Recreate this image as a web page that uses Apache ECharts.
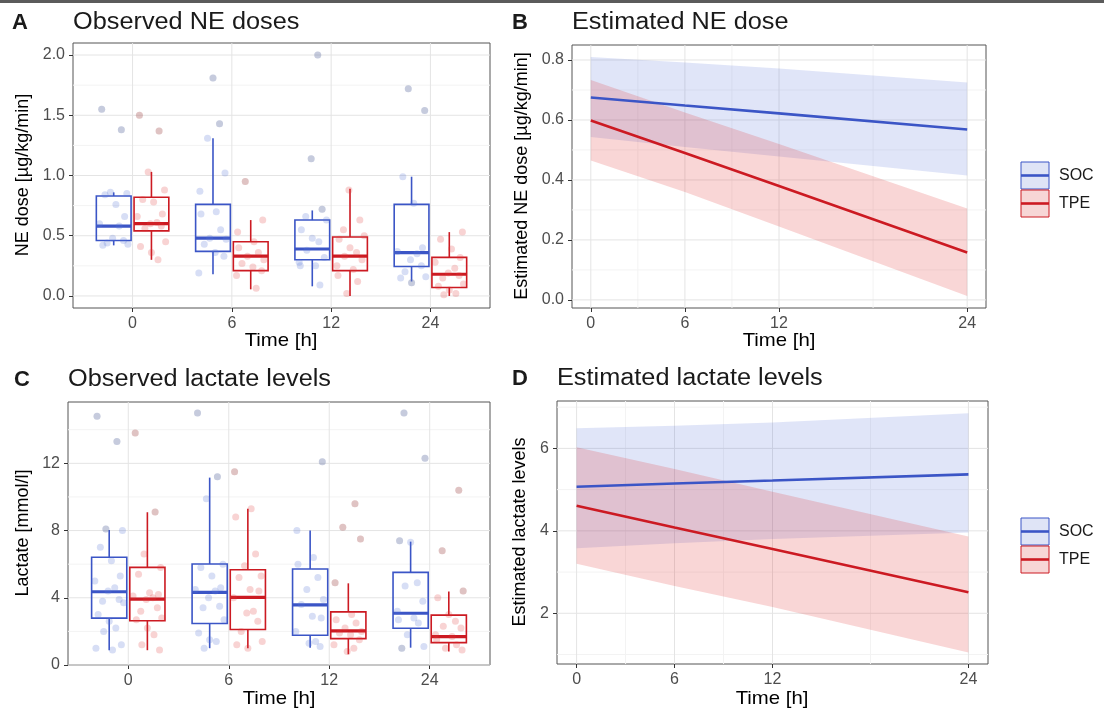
<!DOCTYPE html>
<html><head><meta charset="utf-8">
<script src="https://cdn.jsdelivr.net/npm/echarts@6/dist/echarts.min.js"></script>
<style>html,body{margin:0;padding:0;background:#fff}#c{width:1104px;height:709px}</style>
</head><body><div id="c"></div>
<script>
// ---------- DATA ----------
const CATS = ['0', '6', '12', '24'];
const TIMES = [0, 6, 12, 24];
const GROUPS = ['SOC', 'TPE'];

// Panel A: observed NE doses, box stats [min, q1, median, q3, max]
const NE_SOC_BOX = [[0.42,0.46,0.58,0.83,0.86],[0.18,0.37,0.48,0.76,1.31],[0.08,0.30,0.39,0.63,0.71],[0.12,0.245,0.36,0.76,0.99]];
const NE_TPE_BOX = [[0.30,0.54,0.60,0.82,1.03],[0.055,0.21,0.33,0.45,0.63],[0.0,0.21,0.33,0.49,0.89],[0.0,0.07,0.18,0.32,0.53]];
// Panel A: observed points per time
const NE_SOC_PTS = [
  [1.55,1.38,0.86,0.85,0.84,0.76,0.66,0.60,0.58,0.48,0.46,0.44,0.43,0.42],
  [1.81,1.43,1.31,1.02,0.87,0.70,0.68,0.55,0.48,0.47,0.43,0.36,0.33,0.19],
  [2.00,1.14,0.72,0.66,0.63,0.55,0.48,0.45,0.38,0.32,0.28,0.25,0.25,0.09],
  [1.72,1.54,0.99,0.77,0.40,0.37,0.35,0.30,0.25,0.20,0.16,0.15,0.11]
];
const NE_TPE_PTS = [
  [1.50,1.37,1.03,0.88,0.80,0.78,0.68,0.66,0.61,0.60,0.58,0.56,0.45,0.41,0.36,0.30],
  [0.95,0.63,0.53,0.45,0.40,0.36,0.33,0.30,0.27,0.24,0.21,0.17,0.065],
  [0.88,0.63,0.55,0.50,0.47,0.40,0.36,0.33,0.30,0.25,0.22,0.17,0.12,0.02],
  [0.53,0.47,0.39,0.32,0.28,0.23,0.19,0.17,0.15,0.10,0.08,0.05,0.02,0.01]
];

// Panel B: estimated NE dose at TIMES
const NE_EST_SOC = [0.675, 0.648, 0.622, 0.568];
const NE_EST_SOC_LO = [0.543, 0.510, 0.478, 0.415];
const NE_EST_SOC_HI = [0.810, 0.792, 0.772, 0.725];
const NE_EST_TPE = [0.598, 0.490, 0.380, 0.158];
const NE_EST_TPE_LO = [0.465, 0.360, 0.245, 0.013];
const NE_EST_TPE_HI = [0.733, 0.625, 0.520, 0.305];

// Panel C: observed lactate, box stats [min, q1, median, q3, max]
const LAC_SOC_BOX = [[0.88,2.79,4.36,6.41,8.04],[1.0,2.47,4.32,6.01,11.15],[1.03,1.77,3.58,5.71,8.0],[1.03,2.19,3.08,5.51,7.34]];
const LAC_TPE_BOX = [[0.88,2.63,3.92,5.81,9.09],[1.0,2.11,4.02,5.67,9.3],[0.64,1.57,2.03,3.16,4.86],[0.8,1.33,1.69,2.97,4.38]];
const LAC_SOC_PTS = [
  [14.8,13.3,8.1,8.0,7.0,6.2,5.3,5.0,4.6,4.4,3.9,3.8,3.7,3.0,2.6,2.2,2.0,1.2,1.0,0.9],
  [15.0,11.2,9.9,6.0,5.8,5.3,4.6,4.5,4.4,4.0,3.5,3.4,2.7,1.9,1.5,1.4,1.0],
  [12.1,8.0,6.4,6.0,5.2,4.5,3.9,3.6,2.9,2.8,2.0,1.4,1.3,1.1],
  [15.0,12.3,7.4,7.3,4.9,4.7,3.8,3.2,2.8,2.7,2.5,1.8,1.1,1.0]
];
const LAC_TPE_PTS = [
  [13.8,9.1,6.6,5.8,5.4,4.3,4.2,4.1,4.0,3.9,3.4,3.2,2.8,2.7,2.2,1.8,1.2,0.9],
  [11.5,9.3,8.8,6.6,5.9,5.3,5.2,4.5,4.4,4.0,3.2,3.1,2.6,2.0,1.4,1.2,1.0],
  [9.6,8.2,7.5,4.9,3.0,2.7,2.5,2.2,2.0,1.9,1.8,1.5,1.2,1.0,0.8],
  [10.4,6.8,4.4,4.0,3.0,2.6,2.3,2.2,1.8,1.7,1.5,1.2,1.0,0.9]
];

// Panel D: estimated lactate at TIMES
const LAC_EST_SOC = [5.07, 5.15, 5.22, 5.37];
const LAC_EST_SOC_LO = [3.58, 3.70, 3.80, 3.96];
const LAC_EST_SOC_HI = [6.49, 6.55, 6.63, 6.85];
const LAC_EST_TPE = [4.61, 4.08, 3.56, 2.51];
const LAC_EST_TPE_LO = [3.20, 2.66, 2.15, 1.05];
const LAC_EST_TPE_HI = [6.03, 5.50, 4.95, 3.86];

// ---------- STYLE ----------
const FONT = 'Liberation Sans, Arial, sans-serif';
const C_SOC = '#3b55c6';
const C_TPE = '#cc1a22';
const PT_SOC = 'rgba(90,120,215,0.30)';
const PT_TPE = 'rgba(225,60,60,0.28)';
const PT_OUT = 'rgba(140,140,140,0.28)';
const RIB_SOC = 'rgba(70,100,215,0.17)';
const RIB_TPE = 'rgba(225,50,50,0.20)';
const DODGE = 0.19, HALFW = 0.175;
const JIT = [-0.11,0.07,-0.03,0.12,-0.08,0.02,0.10,-0.13,0.05,-0.01,0.09,-0.06,0.13,-0.10,0.0,0.06,-0.05,0.11,-0.12,0.03];
const SX = 1.1; // horizontal stretch of the reference text

const grids = [
  {left: 73, top: 43, width: 417, height: 265},
  {left: 572, top: 45, width: 414, height: 263},
  {left: 68, top: 402, width: 422, height: 263},
  {left: 557, top: 401, width: 431, height: 263}
];

const TICK = {show:true, length:4, lineStyle:{color:'#333'}};
const LBL = {color:'#4d4d4d', fontSize:16, fontFamily:FONT, margin:8};
function catAxis(gi) {
  return {type:'value', gridIndex: gi, min: 0.4, max: 4.6,
    axisLine:{show:false, onZero:false}, splitLine:{show:false},
    axisTick:Object.assign({customValues:[1,2,3,4]}, TICK),
    axisLabel:Object.assign({customValues:[1,2,3,4], formatter: v => CATS[Math.round(v)-1]}, LBL)};
}
function timeAxis(gi) {
  return {type:'value', gridIndex: gi, min: -1.2, max: 25.2,
    axisLine:{show:false, onZero:false}, splitLine:{show:false},
    axisTick:Object.assign({customValues:TIMES}, TICK),
    axisLabel:Object.assign({customValues:TIMES, formatter: v => String(Math.round(v))}, LBL)};
}
function valAxis(gi, min, max, ticks, dec) {
  return {type:'value', gridIndex: gi, min, max,
    axisLine:{show:false, onZero:false}, splitLine:{show:false},
    axisTick:Object.assign({customValues:ticks}, TICK),
    axisLabel:Object.assign({customValues:ticks, formatter: v => v.toFixed(dec)}, LBL)};
}

function gridLines(gi, hMaj, hMin, vMaj, vMin) {
  const data = [];
  hMin.forEach(v => data.push([v, 1, 1]));
  vMin.forEach(v => data.push([v, 0, 1]));
  hMaj.forEach(v => data.push([v, 1, 0]));
  vMaj.forEach(v => data.push([v, 0, 0]));
  return {type:'custom', xAxisIndex:gi, yAxisIndex:gi, silent:true, z:1,
    encode:{x:-1, y:-1},
    renderItem: (params, api) => {
      const cs = params.coordSys;
      const v = api.value(0), horiz = api.value(1) === 1, minor = api.value(2) === 1;
      const col = minor ? '#f3f3f3' : '#e4e4e4';
      if (horiz) {
        const y = api.coord([0, v])[1];
        return {type:'line', shape:{x1:cs.x, y1:y, x2:cs.x+cs.width, y2:y}, style:{stroke:col, lineWidth:1}};
      } else {
        const x = api.coord([v, 0])[0];
        return {type:'line', shape:{x1:x, y1:cs.y, x2:x, y2:cs.y+cs.height}, style:{stroke:col, lineWidth:1}};
      }
    },
    data};
}

function boxSeries(gi, boxes, offset, color) {
  return {type:'custom', xAxisIndex:gi, yAxisIndex:gi, z:3, silent:true,
    renderItem: (params, api) => {
      const x = api.value(0), mn = api.value(1), q1 = api.value(2), md = api.value(3), q3 = api.value(4), mx = api.value(5);
      const tl = api.coord([x - HALFW, q3]), br = api.coord([x + HALFW, q1]);
      const pMax = api.coord([x, mx]), pQ3 = api.coord([x, q3]), pQ1 = api.coord([x, q1]), pMin = api.coord([x, mn]);
      const mL = api.coord([x - HALFW, md]), mR = api.coord([x + HALFW, md]);
      return {type:'group', children:[
        {type:'line', shape:{x1:pMax[0], y1:pMax[1], x2:pQ3[0], y2:pQ3[1]}, style:{stroke:color, lineWidth:1.6}},
        {type:'line', shape:{x1:pQ1[0], y1:pQ1[1], x2:pMin[0], y2:pMin[1]}, style:{stroke:color, lineWidth:1.6}},
        {type:'rect', shape:{x:tl[0], y:tl[1], width:br[0]-tl[0], height:br[1]-tl[1]}, style:{fill:'none', stroke:color, lineWidth:1.6}},
        {type:'line', shape:{x1:mL[0], y1:mL[1], x2:mR[0], y2:mR[1]}, style:{stroke:color, lineWidth:3.2}}
      ]};
    },
    data: boxes.map((b, i) => [i + 1 + offset, b[0], b[1], b[2], b[3], b[4]])};
}

function pointSeries(gi, pts, boxes, offset, color) {
  const data = [], outs = [];
  let k = 0;
  pts.forEach((arr, i) => {
    arr.forEach(v => {
      const x = i + 1 + offset + JIT[k % JIT.length] * 1.1; k++;
      data.push([x, v]);
      if (v > boxes[i][4] + 1e-9 || v < boxes[i][0] - 1e-9) outs.push([x, v]);
    });
  });
  return [
    {type:'scatter', xAxisIndex:gi, yAxisIndex:gi, z:4, silent:true, symbolSize:7,
      itemStyle:{color:color}, data},
    {type:'scatter', xAxisIndex:gi, yAxisIndex:gi, z:4, silent:true, symbolSize:7,
      itemStyle:{color:PT_OUT}, data:outs}
  ];
}

function ribbon(gi, lo, hi, fill) {
  return {type:'custom', xAxisIndex:gi, yAxisIndex:gi, silent:true, z:2,
    data: [[TIMES[0], lo[0]]],
    renderItem: (params, api) => {
      const pts = [];
      TIMES.forEach((t, i) => pts.push(api.coord([t, hi[i]])));
      for (let i = TIMES.length - 1; i >= 0; i--) pts.push(api.coord([TIMES[i], lo[i]]));
      return {type:'polygon', shape:{points:pts}, style:{fill}};
    }};
}
function estLine(gi, vals, color) {
  return {type:'line', xAxisIndex:gi, yAxisIndex:gi, symbol:'none', silent:true, z:5,
    lineStyle:{color, width:2.6}, data: TIMES.map((t, i) => [t, vals[i]])};
}

const series = [
  gridLines(0, [0,0.5,1,1.5,2], [0.25,0.75,1.25,1.75], [1,2,3,4], []),
  gridLines(1, [0,0.2,0.4,0.6,0.8], [0.1,0.3,0.5,0.7], TIMES, [3,9,18]),
  gridLines(2, [0,4,8,12], [2,6,10,14], [1,2,3,4], []),
  gridLines(3, [2,4,6], [1,3,5,7], TIMES, [3,9,18]),
  boxSeries(0, NE_SOC_BOX, -DODGE, C_SOC),
  boxSeries(0, NE_TPE_BOX, DODGE, C_TPE),
  ...pointSeries(0, NE_SOC_PTS, NE_SOC_BOX, -DODGE, PT_SOC),
  ...pointSeries(0, NE_TPE_PTS, NE_TPE_BOX, DODGE, PT_TPE),
  boxSeries(2, LAC_SOC_BOX, -DODGE, C_SOC),
  boxSeries(2, LAC_TPE_BOX, DODGE, C_TPE),
  ...pointSeries(2, LAC_SOC_PTS, LAC_SOC_BOX, -DODGE, PT_SOC),
  ...pointSeries(2, LAC_TPE_PTS, LAC_TPE_BOX, DODGE, PT_TPE),
  ribbon(1, NE_EST_SOC_LO, NE_EST_SOC_HI, RIB_SOC),
  ribbon(1, NE_EST_TPE_LO, NE_EST_TPE_HI, RIB_TPE),
  estLine(1, NE_EST_SOC, C_SOC),
  estLine(1, NE_EST_TPE, C_TPE),
  ribbon(3, LAC_EST_SOC_LO, LAC_EST_SOC_HI, RIB_SOC),
  ribbon(3, LAC_EST_TPE_LO, LAC_EST_TPE_HI, RIB_TPE),
  estLine(3, LAC_EST_SOC, C_SOC),
  estLine(3, LAC_EST_TPE, C_TPE)
];

function txt(x, y, s, o, sx) {
  return {type:'text', x, y, scaleX: sx || 1, originX: 0, originY: 0,
    style:Object.assign({text:s, fill:'#1a1a1a', font:'22px ' + FONT, textAlign:'left', textVerticalAlign:'middle'}, o || {})};
}
function ytitle(x, y, s) {
  return {type:'text', x, y, rotation: Math.PI/2, style:{text:s, fill:'#000', font:'18px ' + FONT, textAlign:'center', textVerticalAlign:'middle'}};
}
function legendKeys(x, y, names) {
  const els = [];
  const cols = [C_SOC, C_TPE], fills = ['#dfe4f6', '#f7d6d6'];
  names.forEach((n, i) => {
    const yy = y + i * 28;
    els.push({type:'rect', shape:{x, y:yy, width:28, height:27}, style:{fill:fills[i], stroke:cols[i], lineWidth:1}});
    els.push({type:'line', shape:{x1:x, y1:yy+13.5, x2:x+28, y2:yy+13.5}, style:{stroke:cols[i], lineWidth:2.6}});
    els.push({type:'text', x:x+38, y:yy+13.5, style:{text:n, fill:'#1a1a1a', font:'16px ' + FONT, textVerticalAlign:'middle'}});
  });
  return els;
}

const TT = {font:'23px ' + FONT};
const AX = {font:'18.5px ' + FONT, textAlign:'center', fill:'#000'};
const graphic = [
  {type:'rect', shape:{x:0, y:0, width:1104, height:3}, style:{fill:'#5b5b5b'}},
  txt(12, 23, 'A', {font:'bold 22px ' + FONT}),
  txt(73, 23, 'Observed NE doses', TT, SX),
  txt(512, 23, 'B', {font:'bold 22px ' + FONT}),
  txt(572, 23, 'Estimated NE dose', TT, SX),
  txt(14, 380, 'C', {font:'bold 22px ' + FONT}),
  txt(68, 380, 'Observed lactate levels', TT, SX),
  txt(512, 379, 'D', {font:'bold 22px ' + FONT}),
  txt(557, 379, 'Estimated lactate levels', TT, SX),
  ytitle(23, 175, 'NE dose [µg/kg/min]'),
  ytitle(522, 176, 'Estimated NE dose [µg/kg/min]'),
  ytitle(23, 533, 'Lactate [mmol/l]'),
  ytitle(520, 532, 'Estimated lactate levels'),
  txt(281, 341, 'Time [h]', AX, SX),
  txt(779, 341, 'Time [h]', AX, SX),
  txt(279, 699, 'Time [h]', AX, SX),
  txt(772, 699, 'Time [h]', AX, SX),
  ...legendKeys(1021, 162, GROUPS),
  ...legendKeys(1021, 518, GROUPS)
];

const chart = echarts.init(document.getElementById('c'), null, {renderer:'canvas'});
chart.setOption({
  animation:false,
  backgroundColor:'#fff',
  textStyle:{fontFamily:FONT},
  grid: grids.map(g => Object.assign({show:true, borderColor:'#555', borderWidth:1, backgroundColor:'transparent'}, g)),
  xAxis:[catAxis(0), timeAxis(1), catAxis(2), timeAxis(3)],
  yAxis:[valAxis(0, -0.1, 2.1, [0,0.5,1,1.5,2], 1), valAxis(1, -0.027, 0.85, [0,0.2,0.4,0.6,0.8], 1),
         valAxis(2, 0, 15.65, [0,4,8,12], 0), valAxis(3, 0.77, 7.15, [2,4,6], 0)],
  series,
  graphic
});
</script></body></html>
